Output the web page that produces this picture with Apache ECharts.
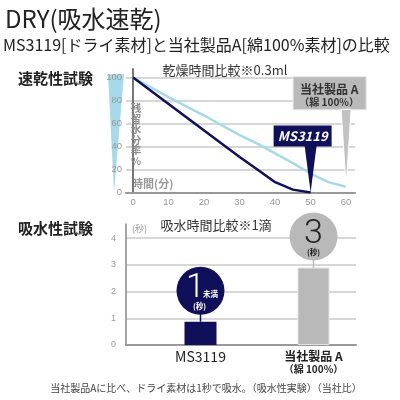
<!DOCTYPE html>
<html><head><meta charset="utf-8">
<script src="https://cdn.jsdelivr.net/npm/echarts@6/dist/echarts.min.js"></script>
<style>html,body{margin:0;padding:0;background:#fff}#c{width:400px;height:400px}</style>
</head><body><div id="c"></div>
<script>
// ---- data ----
const dryMinutes = [0, 10, 20, 30, 35, 40, 45, 50, 55, 60];
const ms3119Residual = [100, 77, 54, 31, 20, 9, 2.5, 0, null, null];
const cottonResidual = [100, 83, 67, 50, 42.5, 34, 25.5, 16.5, 9, 5];
const minuteTicks = [0, 10, 20, 30, 40, 50, 60];
const residualTicks = [0, 20, 40, 60, 80, 100];
const secondTicks = [0, 1, 2, 3, 4];
const absorbCategories = ['MS3119', '当社製品 A'];
const absorbSeconds = [0.87, 2.9];
const bubbleMain = ['1', '3'];
const bubbleNote = ['未満', ''];
const bubbleUnit = '(秒)';
const lineNames = ['MS3119', '当社製品 A'];
const cottonSub = '（綿 100%）';

const NAVY = '#10105a', LBLUE = '#a6dae8', GRAY = '#b9b9b9';
const CJK = "'Noto Sans CJK JP', sans-serif";

const pairs = (xs, ys) => xs.map((x, i) => [x, ys[i]]).filter(d => d[1] != null);
const msData = pairs(dryMinutes, ms3119Residual);
const coData = pairs(dryMinutes, cottonResidual);
const calloutData = [msData[msData.length - 1], coData[coData.length - 1]];

const chart = echarts.init(document.getElementById('c'), null, {renderer: 'canvas'});

function lineCallout(params, api) {
  const i = params.dataIndex;
  const p = api.coord([api.value(0), api.value(1)]);
  const x = p[0], y = p[1];
  if (i === 0) {
    return {type: 'group', children: [
      {type: 'rect', shape: {x: x - 37, y: y - 67, width: 58, height: 21}, style: {fill: NAVY}},
      {type: 'polygon', shape: {points: [[x - 6, y - 47], [x + 6, y - 47], [x, y]]}, style: {fill: NAVY}},
      {type: 'text', style: {text: lineNames[0], x: x - 8, y: y - 56.5, align: 'center', verticalAlign: 'middle',
        fill: '#fff', font: "italic bold 13px " + CJK}}
    ]};
  }
  return {type: 'group', children: [
    {type: 'rect', shape: {x: x - 53, y: y - 110, width: 73, height: 33}, style: {fill: GRAY, stroke: '#e4e4e4', lineWidth: 1}},
    {type: 'polygon', shape: {points: [[x - 5, y - 77.5], [x + 5, y - 77.5], [x, y]]}, style: {fill: '#c2c2c2', stroke: '#fff', lineWidth: 1}},
    {type: 'text', style: {text: lineNames[1], x: x - 17, y: y - 97, align: 'center', verticalAlign: 'middle',
      fill: '#333', font: "bold 12px " + CJK}},
    {type: 'text', style: {text: cottonSub, x: x - 17, y: y - 85, align: 'center', verticalAlign: 'middle',
      fill: '#333', font: "bold 10px " + CJK}}
  ]};
}

function bubble(params, api) {
  const i = params.dataIndex;
  const p = api.coord([api.value(0), api.value(1)]);
  const x = p[0], y = p[1];
  const fill = i === 0 ? NAVY : GRAY;
  const tc = i === 0 ? '#fff' : '#222';
  const hasNote = !!bubbleNote[i];
  const kids = [
    {type: 'line', shape: {x1: x, y1: y - 9, x2: x, y2: y}, style: {stroke: fill, lineWidth: 1.5}},
    {type: 'circle', shape: {cx: x, cy: y - 31, r: 24}, style: {fill: fill}},
    {type: 'text', style: {text: bubbleMain[i], x: hasNote ? x - 5 : x, y: y - 33, align: 'center', verticalAlign: 'middle',
      fill: tc, font: "300 34px Roboto"}},
    {type: 'text', style: {text: bubbleUnit, x: hasNote ? x - 1 : x, y: y - 15.5, align: 'center', verticalAlign: 'middle',
      fill: tc, font: "bold 7.5px " + CJK}}
  ];
  if (hasNote) kids.push({type: 'text', style: {text: bubbleNote[i], x: x + 10, y: y - 28, align: 'center', verticalAlign: 'middle',
      fill: tc, font: "bold 7.5px " + CJK}});
  return {type: 'group', children: kids};
}

const option = {
  animation: false,
  textStyle: {fontFamily: CJK},
  grid: [
    {left: 126, right: 45, top: 69, bottom: 207.5},
    {left: 126, right: 44, top: 224, bottom: 55},
    {left: 144, right: 30, top: 224, bottom: 55}
  ],
  xAxis: [
    {type: 'value', gridIndex: 0, min: -2, max: 62.5,
      axisLine: {show: true, lineStyle: {color: '#999', width: 2}}, axisTick: {show: false}, splitLine: {show: false},
      axisLabel: {customValues: minuteTicks, color: '#999', fontSize: 9.5, margin: 5, fontFamily: 'Liberation Sans'}},
    {type: 'value', gridIndex: 1, min: 0, max: 1,
      axisLine: {show: true, lineStyle: {color: '#999', width: 2}}, axisTick: {show: false}, splitLine: {show: false},
      axisLabel: {show: false}},
    {type: 'category', gridIndex: 2, data: absorbCategories,
      axisLine: {show: false}, axisTick: {show: false}, splitLine: {show: false},
      axisLabel: {margin: 4, interval: 0,
        formatter: (v, i) => i === 0 ? '{a|' + v + '}' : '{b|' + v + '}\n{c|' + cottonSub + '}',
        rich: {a: {fontSize: 14, color: '#222', lineHeight: 16},
               b: {fontSize: 12, fontWeight: 'bold', color: '#222', lineHeight: 14},
               c: {fontSize: 10, fontWeight: 'bold', color: '#222', lineHeight: 12}}}}
  ],
  yAxis: [
    {type: 'value', gridIndex: 0, min: 0, max: 107.5, interval: 20,
      axisLine: {show: true, lineStyle: {color: '#777', width: 2}}, axisTick: {show: false},
      axisLabel: {customValues: residualTicks, color: '#999', fontSize: 9.5, margin: 4, fontFamily: 'Liberation Sans'},
      splitLine: {show: true, showMaxLine: false, showMinLine: false, lineStyle: {color: '#cacaca', width: 1.5}}},
    {type: 'value', gridIndex: 1, min: 0, max: 4.53, interval: 1,
      axisLine: {show: true, lineStyle: {color: '#888', width: 1.5}}, axisTick: {show: false},
      axisLabel: {customValues: secondTicks, color: '#999', fontSize: 9, margin: 10, fontFamily: 'Liberation Sans'},
      splitLine: {show: true, showMaxLine: false, showMinLine: false, lineStyle: {color: '#cacaca', width: 1.5}}},
    {type: 'value', gridIndex: 2, min: 0, max: 4.53, show: false}
  ],
  series: [
    {type: 'line', xAxisIndex: 0, yAxisIndex: 0, data: coData, symbol: 'none', smooth: false,
      lineStyle: {color: LBLUE, width: 2.5, join: 'round'}, z: 3},
    {type: 'line', xAxisIndex: 0, yAxisIndex: 0, data: msData, symbol: 'none', smooth: false,
      lineStyle: {color: NAVY, width: 2.5, join: 'round'}, z: 4},
    {type: 'custom', xAxisIndex: 0, yAxisIndex: 0, data: calloutData, renderItem: lineCallout, clip: false, z: 6},
    {type: 'bar', xAxisIndex: 2, yAxisIndex: 2, barWidth: 32,
      data: absorbSeconds.map((v, i) => ({value: v, itemStyle: i === 0 ? {color: NAVY} : {color: GRAY, borderColor: '#e2e2e2', borderWidth: 1}}))},
    {type: 'custom', xAxisIndex: 2, yAxisIndex: 2, data: absorbSeconds.map((v, i) => [i, v]), renderItem: bubble, clip: false, z: 6}
  ]
};
chart.setOption(option);

const top100 = chart.convertToPixel({gridIndex: 0}, [-2, 103]);
const bot0 = chart.convertToPixel({gridIndex: 0}, [-2, 0]);
chart.setOption({graphic: [
  {type: 'polygon', z: -1, shape: {points: [[top100[0] - 18, top100[1]], [top100[0] - 2, top100[1]], [bot0[0] - 12, bot0[1]]]},
    style: {fill: LBLUE}},
  {type: 'text', left: 5, top: 7, style: {text: 'DRY(吸水速乾)', fill: '#222', font: "24px " + CJK}},
  {type: 'text', left: 3, top: 37, style: {text: 'MS3119[ドライ素材]と当社製品A[綿100%素材]の比較', fill: '#222', font: "16px " + CJK}},
  {type: 'text', left: 18, top: 71, style: {text: '速乾性試験', fill: '#222', font: "bold 15px " + CJK}},
  {type: 'text', left: 18, top: 221, style: {text: '吸水性試験', fill: '#222', font: "bold 15px " + CJK}},
  {type: 'text', x: 225, y: 70, style: {text: '乾燥時間比較※0.3ml', fill: '#333', font: "13px " + CJK, align: 'center', verticalAlign: 'middle'}},
  {type: 'text', x: 216, y: 225, style: {text: '吸水時間比較※1滴', fill: '#333', font: "13px " + CJK, align: 'center', verticalAlign: 'middle'}},
  {type: 'text', x: 132, y: 229, style: {text: '(秒)', fill: '#999', font: "9px " + CJK, verticalAlign: 'middle'}},
  {type: 'text', x: 132, y: 184, style: {text: '時間(分)', fill: '#999', font: "bold 11px " + CJK, verticalAlign: 'middle'}},
  {type: 'text', x: 136, y: 103, z: 10, style: {text: '残\n留\n水\n分\n率\n%', fill: '#8f8f8f', font: "bold 10.5px " + CJK, align: 'center', lineHeight: 10.5}},
  {type: 'text', x: 206, y: 388, style: {text: '当社製品Aに比べ、ドライ素材は1秒で吸水。（吸水性実験）（当社比）', fill: '#444', font: "10px " + CJK, align: 'center', verticalAlign: 'middle'}}
]});
</script>
</body></html>
